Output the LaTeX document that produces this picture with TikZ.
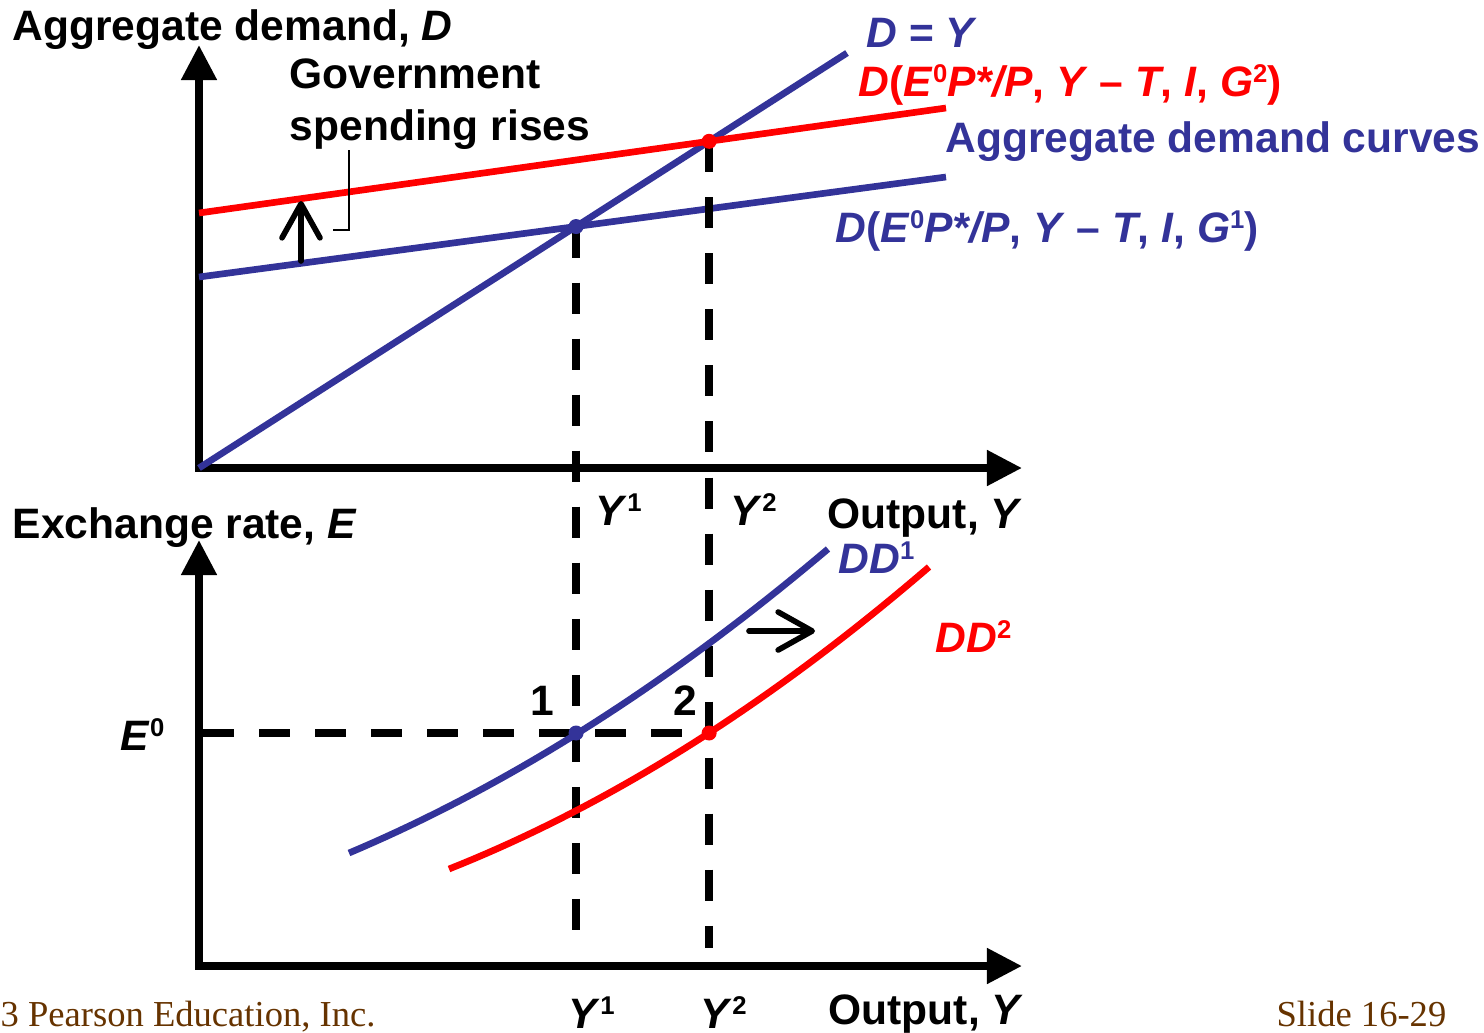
\documentclass[tikz,border=0pt]{standalone}
\usepackage{fontspec}
\setmainfont{Liberation Sans}
\newfontfamily\footfont{Liberation Serif}
\usetikzlibrary{arrows.meta}
\definecolor{adBlue}{HTML}{333399}
\definecolor{adRed}{HTML}{FF0000}
\definecolor{footBrown}{HTML}{663300}

% small raised index, as on the slide
\newcommand\supnum[1]{\raisebox{3.9pt}{\fontsize{7.3}{8}\selectfont\upshape #1}}

\tikzset{
  axes/.style={line width=2.2pt,
    {Triangle[length=3.5mm,width=3.4mm]}-{Triangle[length=3.5mm,width=3.4mm]}},
  curveline/.style={line width=1.9pt},
  guideline/.style={line width=2.1pt, dash pattern=on 3.1mm off 2.5mm},
  shiftarrow/.style={line width=1.6pt, line cap=round,
    -{Straight Barb[round,length=3.4mm,width=3.8mm]}},
  lbl/.style={font=\fontsize{12.1}{14}\selectfont\bfseries, inner sep=0pt,
    anchor=base west},
  footlbl/.style={font=\footfont\fontsize{10.4}{12}\selectfont,
    color=footBrown, inner sep=0pt},
  dotmark/.style={circle, inner sep=0pt, minimum size=1.5mm}
}

\begin{document}
\begin{tikzpicture}[x=0.01cm, y=-0.01cm]
\useasboundingbox (0,0) rectangle (1484,1033);

\def\yEq{733}   % exchange rate E0
\def\yDash{948} % lower end of the guides

% --- TOP PANEL: AXES ---
\coordinate (topO) at (199,468);
\draw[axes] (199,45) coordinate (topYtip) -- (topO) -- (1022,468) coordinate (topXtip);

% --- TOP PANEL: CURVES ---
\coordinate (dyEnd) at (847,53);
\coordinate (ad1L) at (199,277);
\coordinate (ad1R) at (946,177);
\coordinate (ad2L) at (199,213);
\coordinate (ad2R) at (946,108);
\draw[curveline, adBlue] (topO) -- (dyEnd);
\draw[curveline, adBlue] (ad1L) -- (ad1R);
\draw[curveline, adRed] (ad2L) -- (ad2R);

\coordinate (eq1) at (intersection of topO--dyEnd and ad1L--ad1R);
\coordinate (eq2) at (intersection of topO--dyEnd and ad2L--ad2R);

% --- BOTTOM PANEL: AXES ---
\coordinate (botO) at (199,966);
\draw[axes] (199,540) coordinate (botYtip) -- (botO) -- (1022,966) coordinate (botXtip);

% --- GUIDES ---
\coordinate (dashBot) at (0,\yDash);
\coordinate (bq1) at (eq1 |- 0,\yEq);
\coordinate (bq2) at (eq2 |- 0,\yEq);
\coordinate (eLeft) at (203,\yEq);
\draw[guideline] (eq1) -- (eq1 |- dashBot);
\draw[guideline] (eq2) -- (eq2 |- dashBot);
\draw[guideline] (eLeft) -- (bq2);

% --- BOTTOM PANEL: DD CURVES ---
% quadratic through start, equilibrium point and end (u in hundreds)
\draw[curveline, adBlue] plot[domain=349:828, samples=40]
  (\x, {853 - 0.42267*(\x-349) - 4.426*((\x-349)/100)^2});
\draw[curveline, adRed] plot[domain=449:929, samples=40]
  (\x, {869 - 0.3977*(\x-449) - 4.822*((\x-449)/100)^2});

% --- EQUILIBRIUM DOTS ---
\node[dotmark, fill=adBlue] (dotTop1) at (eq1) {};
\node[dotmark, fill=adRed] (dotTop2) at (eq2) {};
\node[dotmark, fill=adBlue] (dotBot1) at (bq1) {};
\node[dotmark, fill=adRed] (dotBot2) at (bq2) {};

% --- SHIFT ARROWS + BRACKET ---
\coordinate (gBase) at (301,261);
\coordinate (gTip) at (301,201);
\draw[shiftarrow] (gBase) -- (gTip);
\coordinate (brTop) at (349,150);
\coordinate (brCorner) at (349,230);
\coordinate (brEnd) at (333,230);
\draw[line width=0.6pt] (brTop) -- (brCorner) -- (brEnd);
\coordinate (ddShiftL) at (749,631);
\coordinate (ddShiftR) at (815,631);
\draw[shiftarrow] (ddShiftL) -- (ddShiftR);

% --- LABELS: TOP ---
\node[lbl] (adTitle) at (12,40) {Aggregate demand, \textit{D}};
\node[lbl] (govText1) at (289,88) {Government};
\node[lbl] (govText2) at (289,140) {spending rises};
\node[lbl, adBlue] (dyLbl) at (866,47) {\textit{D} = \textit{Y}};
\node[lbl, adRed] (ad2Lbl) at (858,96)
  {\textit{D}(\textit{E}\supnum{0}\textit{P*/P}, \textit{Y} – \textit{T}, \textit{I}, \textit{G}\supnum{2})};
\node[lbl, adBlue] (adCurves) at (945,152) {Aggregate demand curves};
\node[lbl, adBlue] (ad1Lbl) at (835,242)
  {\textit{D}(\textit{E}\supnum{0}\textit{P*/P}, \textit{Y} – \textit{T}, \textit{I}, \textit{G}\supnum{1})};
\node[lbl] (y1Top) at (595,525) {\textit{Y}\supnum{1}};
\node[lbl] (y2Top) at (730,525) {\textit{Y}\supnum{2}};
\node[lbl] (outTop) at (827,528) {Output, \textit{Y}};

% --- LABELS: BOTTOM ---
\node[lbl] (exTitle) at (12,538) {Exchange rate, \textit{E}};
\node[lbl] (e0Lbl) at (120,750) {\textit{E}\supnum{0}};
\node[lbl] (n1) at (530,715) {1};
\node[lbl] (n2) at (673,715) {2};
\node[lbl, adBlue] (dd1Lbl) at (838,573) {\textit{DD}\supnum{1}};
\node[lbl, adRed] (dd2Lbl) at (935,652) {\textit{DD}\supnum{2}};
\node[lbl] (y1Bot) at (568,1028) {\textit{Y}\supnum{1}};
\node[lbl] (y2Bot) at (700,1028) {\textit{Y}\supnum{2}};
\node[lbl] (outBot) at (828,1024) {Output, \textit{Y}};

% --- FOOTER ---
\node[footlbl, anchor=base west] (copyLbl) at (0,1026) {3 Pearson Education, Inc.};
\node[footlbl, anchor=base east] (slideLbl) at (1447,1026) {Slide 16-29};

\end{tikzpicture}
\end{document}
